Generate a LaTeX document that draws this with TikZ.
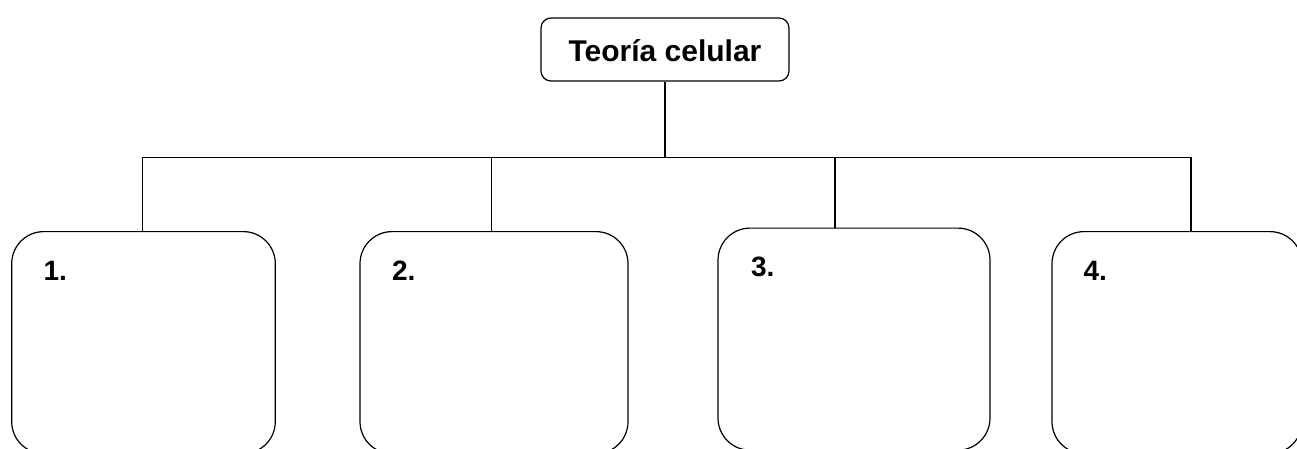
\documentclass[tikz,border=0pt]{standalone}
\usepackage{fontspec}
\setmainfont{Liberation Sans}
\begin{document}
\begin{tikzpicture}[x=1pt,y=-1pt,
  line width=1.2pt,
  titlebox/.style={draw, rounded corners=10pt, minimum width=248pt, minimum height=63pt, inner sep=0pt},
  itembox/.style={draw, rounded corners=32pt, minimum height=222pt, inner sep=0pt},
  itemlabel/.style={anchor=base west, inner sep=0pt, font=\fontsize{28}{32}\selectfont\bfseries},
  link/.style={draw, line width=1.2pt}]
\useasboundingbox (0,0) rectangle (1297,448);
\clip (0,0) rectangle (1297,448);
\node[titlebox] (title) at (665,49.5) {};
\node[anchor=base, inner sep=0pt, font=\fontsize{30}{34}\selectfont\bfseries] (tt) at (665,61) {Teoría celular};
\node[itembox, minimum width=263.6pt, anchor=north] (b1) at (143.5,231) {};
\node[itembox, minimum width=268pt, anchor=north] (b2) at (494,231) {};
\node[itembox, minimum width=272pt, anchor=north] (b3) at (854,227.5) {};
\node[itembox, minimum width=250pt, anchor=north] (b4) at (1177,231) {};
\node[itemlabel] (l1) at (43,280) {1.};
\node[itemlabel] (l2) at (391.5,280) {2.};
\node[itemlabel] (l3) at (750.5,276.5) {3.};
\node[itemlabel] (l4) at (1083,280) {4.};
\coordinate (j1) at (142.7,157.3);
\coordinate (j2) at (491.7,157.3);
\coordinate (j3) at (835,157.3);
\coordinate (j4) at (1191,157.3);
\path[link] (title.south) -- (title.south |- j1);
\path[link] (j1) -- (j4);
\path[link] (j1) -- (j1 |- b1.north);
\path[link] (j2) -- (j2 |- b2.north);
\path[link] (j3) -- (j3 |- b3.north);
\path[link] (j4) -- (j4 |- b4.north);
\end{tikzpicture}
\end{document}
